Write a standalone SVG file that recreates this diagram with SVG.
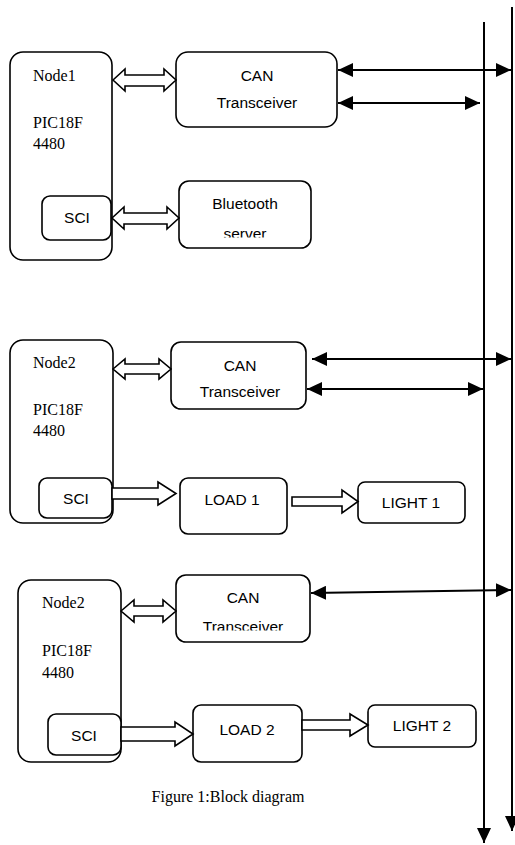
<svg xmlns="http://www.w3.org/2000/svg" width="515" height="845" viewBox="0 0 515 845">
<style>
.box{fill:#fff;stroke:#000;stroke-width:1.6}
.hol{fill:#fff;stroke:#000;stroke-width:1.6;stroke-linejoin:miter}
.ser{font-family:"Liberation Serif","Times New Roman",serif;font-size:16px;fill:#000}
.san{font-family:"Liberation Sans",Arial,sans-serif;font-size:15.5px;fill:#000}
.ln{stroke:#000;stroke-width:2;fill:none}
</style>
<defs>
<marker id="ah" viewBox="0 0 15 14" refX="15" refY="7" markerWidth="15" markerHeight="14" markerUnits="userSpaceOnUse" orient="auto-start-reverse">
<path d="M0,0 L15,7 L0,14 z" fill="#000"/>
</marker>
<clipPath id="clipBt"><rect x="179" y="181" width="132" height="56.5"/></clipPath>
<clipPath id="clipCan3"><rect x="176" y="575" width="134" height="55.5"/></clipPath>
</defs>

<g id="node1">
<rect class="box" x="10" y="52" width="102" height="208" rx="13"/>
<text class="ser" x="33" y="81">Node1</text>
<text class="ser" x="33" y="128">PIC18F</text>
<text class="ser" x="33" y="149">4480</text>
</g>
<g id="sci1">
<rect class="box" x="42" y="196" width="69" height="44" rx="8"/>
<text class="san" x="77" y="223" text-anchor="middle">SCI</text>
</g>
<g id="can1">
<rect class="box" x="176" y="52" width="161" height="75" rx="12"/>
<text class="san" x="257" y="81" text-anchor="middle">CAN</text>
<text class="san" x="257" y="108" text-anchor="middle">Transceiver</text>
</g>
<g id="bluetooth">
<rect class="box" x="179" y="181" width="132" height="67" rx="10"/>
<text class="san" x="245" y="209" text-anchor="middle">Bluetooth</text>
<text class="san" x="245" y="238.5" text-anchor="middle" clip-path="url(#clipBt)">server</text>
</g>

<g id="node2">
<rect class="box" x="10" y="340" width="103" height="183" rx="13"/>
<text class="ser" x="33" y="368">Node2</text>
<text class="ser" x="33" y="415">PIC18F</text>
<text class="ser" x="33" y="436">4480</text>
</g>
<g id="sci2">
<rect class="box" x="39" y="478" width="73" height="40" rx="8"/>
<text class="san" x="76" y="504" text-anchor="middle">SCI</text>
</g>
<g id="can2">
<rect class="box" x="171" y="342" width="135" height="67" rx="10"/>
<text class="san" x="240" y="371" text-anchor="middle">CAN</text>
<text class="san" x="240" y="397" text-anchor="middle">Transceiver</text>
</g>
<g id="load1">
<rect class="box" x="180" y="478" width="107" height="56" rx="8"/>
<text class="san" x="232" y="505" text-anchor="middle">LOAD 1</text>
</g>
<g id="light1">
<rect class="box" x="358" y="482" width="107" height="41" rx="7"/>
<text class="san" x="411" y="508" text-anchor="middle">LIGHT 1</text>
</g>

<g id="node3">
<rect class="box" x="18" y="580" width="103" height="182" rx="13"/>
<text class="ser" x="42" y="608">Node2</text>
<text class="ser" x="42" y="656">PIC18F</text>
<text class="ser" x="42" y="678">4480</text>
</g>
<g id="sci3">
<rect class="box" x="48" y="714" width="73" height="41" rx="8"/>
<text class="san" x="84" y="741" text-anchor="middle">SCI</text>
</g>
<g id="can3">
<rect class="box" x="176" y="575" width="134" height="67" rx="10"/>
<text class="san" x="243" y="603" text-anchor="middle">CAN</text>
<text class="san" x="243" y="631.5" text-anchor="middle" clip-path="url(#clipCan3)">Transceiver</text>
</g>
<g id="load2">
<rect class="box" x="193" y="705" width="109" height="57" rx="8"/>
<text class="san" x="247" y="735" text-anchor="middle">LOAD 2</text>
</g>
<g id="light2">
<rect class="box" x="368" y="705" width="108" height="42" rx="7"/>
<text class="san" x="422" y="731" text-anchor="middle">LIGHT 2</text>
</g>

<g id="connectors">
<path class="hol" d="M113,80 L125,69 L125,75 L164,75 L164,69 L176,80 L164,91 L164,86 L125,86 L125,91 Z"/>
<path class="hol" d="M112,218 L124,207 L124,213 L167,213 L167,207 L179,218 L167,229 L167,224 L124,224 L124,229 Z"/>
<path class="hol" d="M113,369 L125,359 L125,364 L159,364 L159,359 L171,369 L159,379 L159,374 L125,374 L125,379 Z"/>
<path class="hol" d="M121,611 L134,600 L134,606 L163,606 L163,600 L176,611 L163,622 L163,616 L134,616 L134,622 Z"/>
<path class="hol" d="M112,488 L158,488 L158,482 L176,493.5 L158,505 L158,499 L112,499 Z"/>
<path class="hol" d="M292,497 L342,497 L342,490 L358,501.5 L342,513 L342,506 L292,506 Z"/>
<path class="hol" d="M121,727 L175,727 L175,722 L193,734 L175,746 L175,741 L121,741 Z"/>
<path class="hol" d="M302,720 L350,720 L350,714 L368,725 L350,736 L350,730 L302,730 Z"/>
<line class="ln" x1="484" y1="22" x2="484" y2="843" marker-end="url(#ah)"/>
<line class="ln" x1="512" y1="7" x2="512" y2="831" marker-end="url(#ah)"/>
<line class="ln" x1="338" y1="70" x2="511" y2="70" marker-start="url(#ah)" marker-end="url(#ah)"/>
<line class="ln" x1="338" y1="103" x2="480" y2="103" marker-start="url(#ah)" marker-end="url(#ah)"/>
<line class="ln" x1="312" y1="359" x2="511" y2="359" marker-start="url(#ah)" marker-end="url(#ah)"/>
<line class="ln" x1="307" y1="389" x2="483" y2="389" marker-start="url(#ah)" marker-end="url(#ah)"/>
<line class="ln" x1="311" y1="593" x2="511" y2="590" marker-start="url(#ah)" marker-end="url(#ah)"/>
</g>

<text class="ser" x="228" y="802" text-anchor="middle" font-size="15">Figure 1:Block diagram</text>
</svg>
